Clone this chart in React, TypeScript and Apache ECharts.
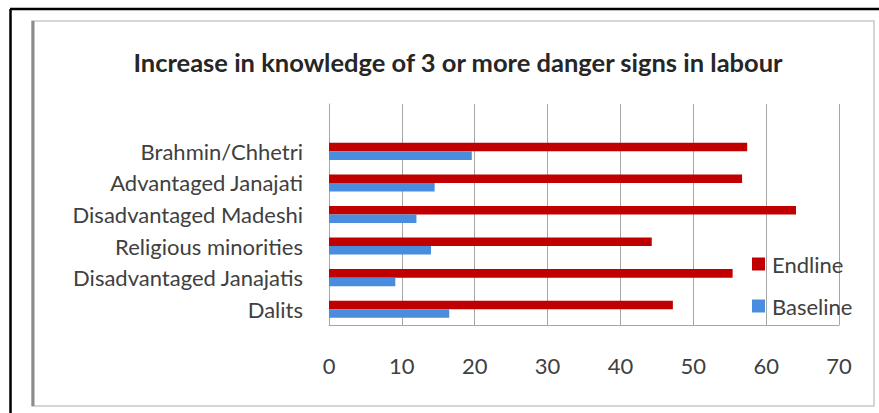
import React, { useEffect, useRef } from "react";
import * as echarts from "echarts";

const title = "Increase in knowledge of 3 or more danger signs in labour";
// bottom to top
const categories = [
  "Dalits",
  "Disadvantaged Janajatis",
  "Religious minorities",
  "Disadvantaged Madeshi",
  "Advantaged Janajati",
  "Brahmin/Chhetri",
];
const endline = [47.2, 55.4, 44.3, 64.1, 56.7, 57.4];
const baseline = [16.5, 9.1, 14.0, 12.0, 14.5, 19.6];
const xTicks = { min: 0, max: 70, interval: 10 };

const FONT = "Lato, 'Open Sans', sans-serif";

export default function App() {
  const ref = useRef<HTMLDivElement>(null);
  useEffect(() => {
    if (!ref.current) return;
    const chart = echarts.init(ref.current, null, { renderer: "svg" });
    const cats = [...categories, ""];
    chart.setOption({
      animation: false,
      backgroundColor: "#ffffff",
      textStyle: { fontFamily: FONT },
      title: {
        text: title,
        left: 453,
        top: 44,
        textAlign: "center",
        textStyle: { fontFamily: FONT, fontSize: 25.5, fontWeight: "bold", color: "#262626" },
      },
      legend: {
        orient: "vertical",
        left: 752,
        top: 252,
        padding: 0,
        itemWidth: 13,
        itemHeight: 13,
        itemGap: 18,
        icon: "rect",
        data: ["Endline", "Baseline"],
        textStyle: { fontFamily: FONT, fontSize: 22, color: "#404040", lineHeight: 24, padding: [0, 0, 0, 2] },
      },
      grid: { left: 329, right: 40, top: 104, bottom: 88 },
      xAxis: {
        type: "value",
        min: xTicks.min,
        max: xTicks.max,
        interval: xTicks.interval,
        axisLine: { show: true, lineStyle: { color: "#A6A6A6" } },
        axisTick: { show: false },
        splitLine: { show: true, lineStyle: { color: "#A6A6A6", width: 1 } },
        axisLabel: { fontFamily: FONT, fontSize: 22, color: "#404040", margin: 29 },
      },
      yAxis: {
        type: "category",
        data: cats,
        axisLine: { show: true, lineStyle: { color: "#A6A6A6" } },
        axisTick: { show: false },
        axisLabel: { fontFamily: FONT, fontSize: 22, color: "#404040", margin: 26 },
      },
      series: [
        {
          name: "Endline",
          type: "bar",
          data: [...endline, null],
          itemStyle: { color: "#C00000" },
          barGap: "0%",
          barCategoryGap: "46%",
        },
        {
          name: "Baseline",
          type: "bar",
          data: [...baseline, null],
          itemStyle: { color: "#4A8CDE" },
          barGap: "0%",
          barCategoryGap: "46%",
        },
      ],
      graphic: [
        { type: "line", shape: { x1: 10, y1: 9, x2: 879, y2: 9 }, style: { stroke: "#000", lineWidth: 2.5 } },
        { type: "line", shape: { x1: 10.5, y1: 9, x2: 10.5, y2: 413 }, style: { stroke: "#000", lineWidth: 2.5 } },
        { type: "rect", shape: { x: 32, y: 21, width: 842, height: 385 }, style: { fill: "none", stroke: "#C8C8C8", lineWidth: 1.5 } },
        { type: "line", shape: { x1: 33, y1: 21, x2: 33, y2: 406 }, style: { stroke: "#8C8C8C", lineWidth: 3 } },
      ],
    });
    return () => chart.dispose();
  }, []);
  return <div ref={ref} style={{ position: "fixed", left: 0, top: 0, width: 879, height: 413 }} />;
}
